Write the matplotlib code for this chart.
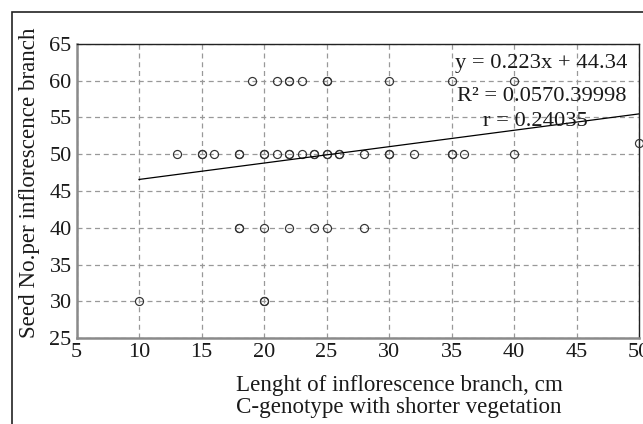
import matplotlib
matplotlib.use("Agg")
import matplotlib.pyplot as plt
from matplotlib.patches import Rectangle
import numpy as np

plt.rcParams['font.family'] = ['Liberation Serif', 'DejaVu Serif']

# Data (branch length, seed number)
length_60 = [19, 21, 22, 22, 23, 25, 25, 30, 35, 40]
seeds_60 = [60] * len(length_60)
length_50 = [13, 15, 15, 16, 18, 18, 20, 20, 21, 22, 22, 23, 24, 24, 25, 25,
             26, 26, 28, 30, 30, 32, 35, 35, 36, 40]
seeds_50 = [50] * len(length_50)
length_40 = [18, 18, 20, 22, 24, 25, 28]
seeds_40 = [40] * len(length_40)
length_30 = [10, 20, 20]
seeds_30 = [30] * len(length_30)
length_extra = [50]
seeds_extra = [51.5]

lengths = length_60 + length_50 + length_40 + length_30 + length_extra
seeds = seeds_60 + seeds_50 + seeds_40 + seeds_30 + seeds_extra

slope = 0.223
intercept = 44.34
eq_text = "y = 0.223x + 44.34"
r2_text = "R² = 0.0570.39998"
r_text = "r = 0.24035"

x_ticks = [5, 10, 15, 20, 25, 30, 35, 40, 45, 50]
y_ticks = [25, 30, 35, 40, 45, 50, 55, 60, 65]

W, H = 643, 424
fig = plt.figure(figsize=(W / 100, H / 100), dpi=100)
ax = fig.add_axes([76.5 / W, 1 - 338 / H, (639 - 76.5) / W, (338 - 44) / H])

ax.set_xlim(5, 50)
ax.set_ylim(25, 65)
ax.set_xticks(x_ticks)
ax.set_yticks(y_ticks)
ax.tick_params(length=0, labelsize=16, pad=3.5, colors='#1a1a1a')
ax.grid(True, linestyle=(0, (4, 3)), color='#999999', linewidth=0.9)
ax.set_axisbelow(True)

for side in ['left', 'bottom']:
    ax.spines[side].set_color('#8a8a8a')
    ax.spines[side].set_linewidth(1.8)
for side in ['top', 'right']:
    ax.spines[side].set_color('#222222')
    ax.spines[side].set_linewidth(1.0)

ax.plot(lengths, seeds, linestyle='none', marker='o', markersize=5.8,
        markerfacecolor='none', markeredgecolor='#333333', markeredgewidth=0.85,
        clip_on=False, zorder=3)

xl = np.array([min(lengths), max(lengths)])
ax.plot(xl, slope * xl + intercept, color='black', linewidth=0.9, zorder=4)

ax.text(42.2, 62.4, eq_text, ha='center', va='center', fontsize=16.2, color='#1a1a1a', zorder=5)
ax.text(42.2, 57.8, r2_text, ha='center', va='center', fontsize=16.2, color='#1a1a1a', zorder=5)
ax.text(41.7, 54.4, r_text, ha='center', va='center', fontsize=16.2, color='#1a1a1a', zorder=5)

fig.text(30 / W, 1 - 183 / H, "Seed No.per inflorescence branch", rotation=90,
         ha='center', va='center', fontsize=16.6, color='#1a1a1a')
fig.text(399 / W, 1 - 385 / H, "Lenght of inflorescence branch, cm",
         ha='center', va='center', fontsize=16.6, color='#1a1a1a')
fig.text(399 / W, 1 - 408 / H, "C-genotype with shorter vegetation",
         ha='center', va='center', fontsize=16.6, color='#1a1a1a')

fig.add_artist(Rectangle((12 / W, -0.1), 2, 1 - 12 / H + 0.1, transform=fig.transFigure,
                         fill=False, edgecolor='#222222', linewidth=1.2))

fig.savefig("out.png", dpi=100)
